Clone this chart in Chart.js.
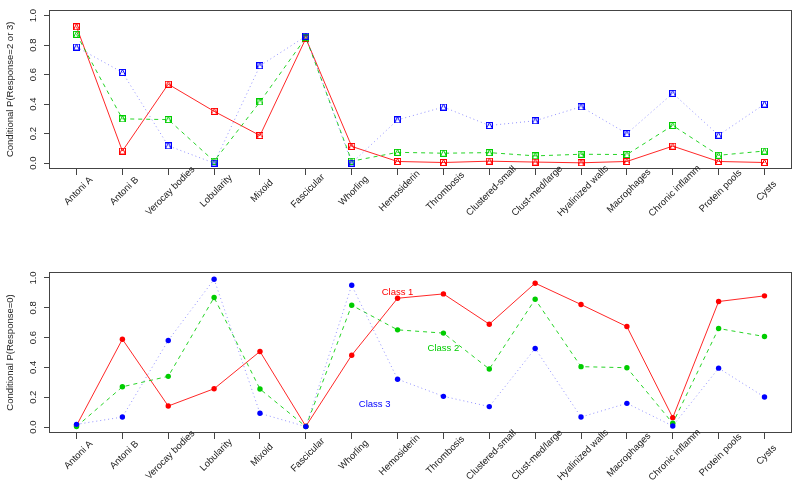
<!DOCTYPE html>
<html><head><meta charset="utf-8">
<script src="https://cdn.jsdelivr.net/npm/chart.js@4.4.0/dist/chart.umd.min.js"></script>
<style>
html,body{margin:0;padding:0;background:#fff;}
#wrap{position:relative;width:800px;height:487px;overflow:hidden;background:#fff;}
canvas{position:absolute;left:0;}
</style></head><body>
<div id="wrap">
<canvas id="c1" width="800" height="243" style="top:0px"></canvas>
<canvas id="c2" width="800" height="244" style="top:243px"></canvas>
</div>
<script>
const categories = ["Antoni A","Antoni B","Verocay bodies","Lobularity","Mixoid","Fascicular","Whorling","Hemosiderin","Thrombosis","Clustered-small","Clust-med/large","Hyalinized walls","Macrophages","Chronic inflamm","Protein pools","Cysts"];
const topClass1 = [0.924, 0.082, 0.535, 0.351, 0.187, 0.845, 0.113, 0.011, 0.004, 0.013, 0.007, 0.002, 0.011, 0.115, 0.011, 0.004];
const topClass2 = [0.873, 0.300, 0.295, 0.013, 0.415, 0.851, 0.013, 0.073, 0.067, 0.071, 0.049, 0.060, 0.058, 0.255, 0.053, 0.082];
const topClass3 = [0.787, 0.615, 0.117, 0.000, 0.660, 0.860, 0.000, 0.293, 0.380, 0.255, 0.287, 0.382, 0.200, 0.473, 0.189, 0.400];
const botClass1 = [0.010, 0.589, 0.141, 0.257, 0.507, 0.005, 0.482, 0.864, 0.893, 0.690, 0.965, 0.822, 0.674, 0.063, 0.842, 0.880];
const botClass2 = [0.003, 0.270, 0.340, 0.869, 0.255, 0.003, 0.817, 0.652, 0.630, 0.389, 0.857, 0.405, 0.398, 0.025, 0.661, 0.607];
const botClass3 = [0.018, 0.067, 0.581, 0.991, 0.092, 0.003, 0.951, 0.321, 0.206, 0.137, 0.527, 0.067, 0.159, 0.007, 0.395, 0.201];
const yTicks = [0, 0.2, 0.4, 0.6, 0.8, 1.0];
const classLabels = ["Class 1", "Class 2", "Class 3"];
const classLabelX = [7, 8, 6.5];
const classLabelY = [0.90, 0.53, 0.15];
const topTitle = "Conditional P(Response=2 or 3)";
const botTitle = "Conditional P(Response=0)";

const RED = "#ff0000", GREEN = "#00cd00", BLUE = "#0000ff";
const RED_LINE = "rgba(255,0,0,0.85)", GREEN_LINE = "rgba(0,205,0,0.85)", BLUE_LINE = "rgba(40,40,255,0.5)";
const FONT = {family: "'Liberation Sans', Arial, Helvetica, sans-serif", size: 9.5};
const TEXT = "#222";
const AXIS = "#444";

function markerImg(color) {
  const c = document.createElement('canvas');
  c.width = 7; c.height = 7;
  const g = c.getContext('2d');
  g.strokeStyle = color; g.lineWidth = 1;
  g.strokeRect(0.5, 0.5, 6, 6);
  g.beginPath();
  g.moveTo(0.5, 6.5); g.lineTo(3.5, 0.5); g.lineTo(6.5, 6.5);
  g.stroke();
  return c;
}

function pts(vals) { return vals.map((v, i) => ({x: i, y: v})); }

const boxPlugin = {
  id: 'box',
  beforeDatasetsDraw(chart) {
    const {ctx, chartArea: a} = chart;
    ctx.save();
    ctx.strokeStyle = AXIS; ctx.lineWidth = 1;
    ctx.strokeRect(Math.round(a.left) + 0.5, Math.round(a.top) + 0.5,
                   Math.round(a.right - a.left) - 1, Math.round(a.bottom - a.top) - 1);
    ctx.restore();
  }
};

const xLabelPlugin = {
  id: 'xlabels',
  afterDraw(chart) {
    const {ctx, chartArea: a} = chart;
    const xs = chart.scales.x;
    ctx.save();
    ctx.font = FONT.size + "px " + FONT.family;
    ctx.fillStyle = TEXT;
    ctx.textAlign = 'center';
    ctx.textBaseline = 'middle';
    categories.forEach((c, i) => {
      const px = xs.getPixelForValue(i) + 2;
      const py = a.bottom + 22;
      ctx.save();
      ctx.translate(px, py);
      ctx.rotate(-Math.PI / 4);
      ctx.fillText(c, 0, 0);
      ctx.restore();
    });
    ctx.restore();
  }
};

const classLabelPlugin = {
  id: 'classlabels',
  afterDatasetsDraw(chart) {
    const {ctx} = chart;
    const xs = chart.scales.x, ys = chart.scales.y;
    const cols = [RED, GREEN, BLUE];
    ctx.save();
    ctx.font = FONT.size + "px " + FONT.family;
    ctx.textAlign = 'center';
    ctx.textBaseline = 'middle';
    classLabels.forEach((t, i) => {
      ctx.fillStyle = cols[i];
      ctx.fillText(t, xs.getPixelForValue(classLabelX[i]), ys.getPixelForValue(classLabelY[i]));
    });
    ctx.restore();
  }
};

function makeOptions(title, padTop, xHeight) {
  return {
    responsive: false, animation: false, devicePixelRatio: 1,
    layout: {padding: {top: padTop, right: 8, left: 0, bottom: 0}},
    plugins: {legend: {display: false}, tooltip: {enabled: false}},
    elements: {line: {tension: 0}},
    scales: {
      x: {
        type: 'linear', min: -0.6, max: 15.6,
        afterBuildTicks: s => { s.ticks = categories.map((c, i) => ({value: i})); },
        ticks: {display: false},
        grid: {drawOnChartArea: false, drawTicks: true, tickLength: 6, color: AXIS, lineWidth: 1},
        border: {display: false},
        afterFit: s => { s.height = xHeight; }
      },
      y: {
        type: 'linear', min: -0.04, max: 1.04,
        afterBuildTicks: s => { s.ticks = yTicks.map(v => ({value: v})); },
        ticks: {minRotation: 90, maxRotation: 90, crossAlign: 'center', padding: 4,
                font: FONT, color: TEXT, callback: v => Number(v).toFixed(1)},
        grid: {drawOnChartArea: false, drawTicks: true, tickLength: 5, color: AXIS, lineWidth: 1},
        border: {display: false},
        title: {display: true, text: title, font: FONT, color: TEXT, padding: {top: 5, bottom: 0}},
        afterFit: s => { s.width = 49; }
      }
    }
  };
}

function ds(vals, color, lineColor, dash, style, radius) {
  return {
    data: pts(vals), borderColor: lineColor, borderWidth: 1, borderDash: dash,
    pointStyle: style, pointRadius: radius, pointBackgroundColor: color,
    pointBorderColor: color, pointBorderWidth: 0, fill: false
  };
}

new Chart(document.getElementById('c1'), {
  type: 'line',
  data: {datasets: [
    ds(topClass3, BLUE, BLUE_LINE, [1, 3], markerImg(BLUE), 3),
    ds(topClass2, GREEN, GREEN_LINE, [4, 4], markerImg(GREEN), 3),
    ds(topClass1, RED, RED_LINE, [], markerImg(RED), 3)
  ]},
  options: makeOptions(topTitle, 7, 74),
  plugins: [boxPlugin, xLabelPlugin]
});

new Chart(document.getElementById('c2'), {
  type: 'line',
  data: {datasets: [
    ds(botClass3, BLUE, BLUE_LINE, [1, 3], 'circle', 2.7),
    ds(botClass2, GREEN, GREEN_LINE, [4, 4], 'circle', 2.7),
    ds(botClass1, RED, RED_LINE, [], 'circle', 2.7)
  ]},
  options: makeOptions(botTitle, 29, 54),
  plugins: [boxPlugin, xLabelPlugin, classLabelPlugin]
});
</script>
</body></html>
